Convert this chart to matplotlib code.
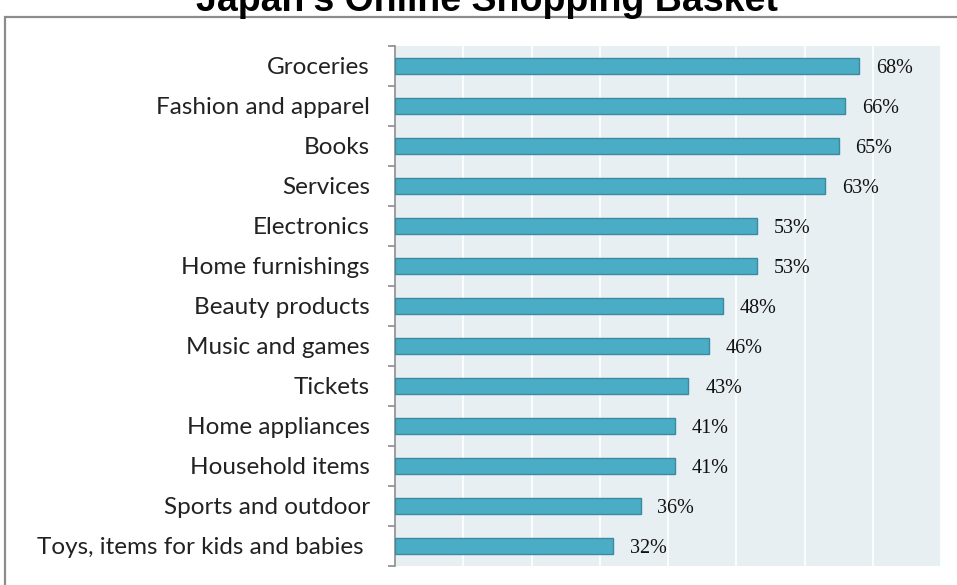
import numpy as np
import matplotlib.pyplot as plt
from matplotlib.patches import Rectangle

# Categories in reading order (top to bottom) and share of online shoppers
categories = [
    "Groceries", "Fashion and apparel", "Books", "Services", "Electronics",
    "Home furnishings", "Beauty products", "Music and games", "Tickets",
    "Home appliances", "Household items", "Sports and outdoor",
    "Toys, items for kids and babies ",
]
values = [68, 66, 65, 63, 53, 53, 48, 46, 43, 41, 41, 36, 32]

bar_color = "#4BACC6"
edge_color = "#3A8AA0"
bg_color = "#E8EFF3"

fig = plt.figure(figsize=(9.57, 5.85), dpi=100)

# outer frame around the chart, partly cut off at the right and bottom
frame = Rectangle((5 / 957, -0.05), 1.2, 1 - 17 / 585 + 0.05,
                  transform=fig.transFigure, fill=False,
                  edgecolor="#8C8C8C", linewidth=1.6, zorder=0)
fig.add_artist(frame)

fig.text(487 / 957, 1 - 11 / 585, "Japan's Online Shopping Basket",
         ha="center", va="baseline", fontsize=27, fontweight="bold",
         family="Liberation Sans")

ax = fig.add_axes([395 / 957, 1 - 566 / 585, 546 / 957, 520 / 585])
ax.set_facecolor(bg_color)

y = np.arange(len(categories))
ax.barh(y, values, height=0.4, color=bar_color, edgecolor=edge_color,
        linewidth=1.0, zorder=3)

for yi, v in zip(y, values):
    ax.annotate(f"{v}%", (v, yi), xytext=(12, 0), textcoords="offset points",
                ha="left", va="center_baseline", fontsize=14.5,
                family="Liberation Serif", color="#111111")

ax.set_xlim(0, 80)
ax.set_ylim(len(categories) - 0.5, -0.5)
ax.set_xticks(np.arange(0, 81, 10))
ax.xaxis.grid(True, color="white", linewidth=1.2, zorder=1)
ax.tick_params(axis="x", length=0, labelbottom=False)

ax.set_yticks(y)
ax.set_yticklabels(categories, fontsize=17.5, family="Lato", color="#222222")
ax.tick_params(axis="y", which="major", length=0, pad=18)
ax.set_yticks(np.arange(-0.5, len(categories), 1), minor=True)
ax.tick_params(axis="y", which="minor", length=5, color="#8C8C8C", width=1.2)

for side in ["top", "right", "bottom"]:
    ax.spines[side].set_visible(False)
ax.spines["left"].set_color("#8C8C8C")
ax.spines["left"].set_linewidth(1.2)

fig.savefig("out.png", dpi=100)
